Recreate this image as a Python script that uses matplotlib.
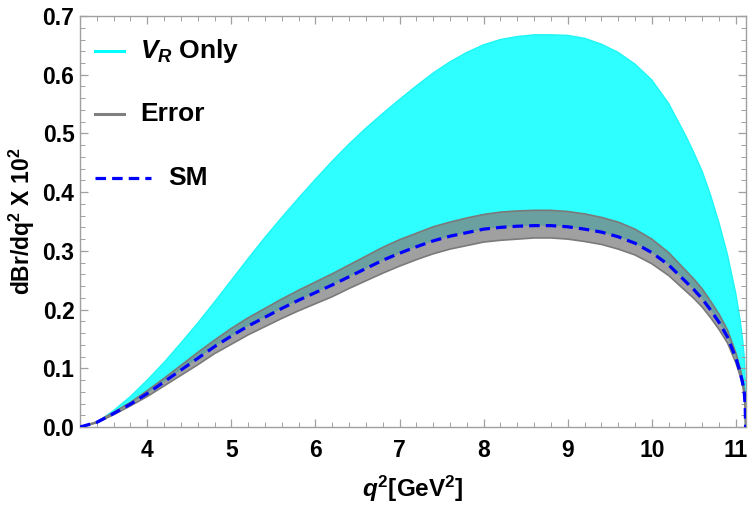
import matplotlib
matplotlib.use("Agg")
import matplotlib.pyplot as plt
from matplotlib.ticker import MultipleLocator, FormatStrFormatter

plt.rcParams['font.family'] = ['Liberation Sans', 'DejaVu Sans']
plt.rcParams['font.weight'] = 'bold'
plt.rcParams['mathtext.fontset'] = 'custom'
plt.rcParams['mathtext.rm'] = 'Liberation Sans:bold'
plt.rcParams['mathtext.it'] = 'Liberation Sans:italic:bold'
plt.rcParams['mathtext.bf'] = 'Liberation Sans:bold'

# q^2 grid (GeV^2)
q2 = [3.2, 3.4, 3.6, 3.8, 4.0, 4.2, 4.4, 4.6, 4.8, 5.0, 5.2, 5.4, 5.6, 5.8,
      6.0, 6.2, 6.4, 6.6, 6.8, 7.0, 7.2, 7.4, 7.6, 7.8, 8.0, 8.2, 8.4, 8.6,
      8.8, 9.0, 9.2, 9.4, 9.6, 9.8, 10.0, 10.2, 10.4, 10.5, 10.6, 10.7, 10.8,
      10.9, 11.0, 11.05, 11.08, 11.1, 11.11, 11.115]
# V_R only (upper edge of cyan band)
vr_only = [0.000, 0.008, 0.028, 0.052, 0.080, 0.110, 0.143, 0.177, 0.213, 0.250,
           0.287, 0.323, 0.357, 0.390, 0.422, 0.453, 0.482, 0.509, 0.534, 0.558,
           0.581, 0.603, 0.622, 0.638, 0.651, 0.660, 0.665, 0.668, 0.668, 0.667,
           0.662, 0.652, 0.638, 0.618, 0.591, 0.551, 0.497, 0.467, 0.435, 0.394,
           0.347, 0.293, 0.226, 0.182, 0.148, 0.117, 0.078, 0.0]
# SM central value
sm = [0.000, 0.008, 0.023, 0.039, 0.057, 0.077, 0.097, 0.117, 0.137, 0.155,
      0.172, 0.187, 0.202, 0.216, 0.229, 0.242, 0.256, 0.270, 0.284, 0.296,
      0.307, 0.317, 0.325, 0.331, 0.337, 0.340, 0.342, 0.343, 0.343, 0.341,
      0.337, 0.332, 0.324, 0.313, 0.297, 0.276, 0.248, 0.234, 0.218, 0.199,
      0.178, 0.153, 0.117, 0.093, 0.075, 0.057, 0.035, 0.0]
# SM error band edges
err_hi = [0.000, 0.009, 0.025, 0.042, 0.062, 0.083, 0.105, 0.127, 0.148, 0.168,
          0.186, 0.202, 0.218, 0.233, 0.247, 0.261, 0.276, 0.291, 0.306, 0.319,
          0.330, 0.341, 0.349, 0.356, 0.362, 0.366, 0.368, 0.369, 0.369, 0.367,
          0.363, 0.357, 0.349, 0.337, 0.320, 0.297, 0.267, 0.252, 0.235, 0.214,
          0.192, 0.165, 0.126, 0.100, 0.081, 0.062, 0.038, 0.0]
err_lo = [0.000, 0.007, 0.021, 0.036, 0.052, 0.070, 0.088, 0.106, 0.125, 0.141,
          0.157, 0.171, 0.185, 0.198, 0.210, 0.222, 0.236, 0.249, 0.262, 0.274,
          0.285, 0.295, 0.303, 0.309, 0.315, 0.318, 0.320, 0.322, 0.322, 0.320,
          0.316, 0.311, 0.303, 0.293, 0.278, 0.258, 0.232, 0.219, 0.204, 0.186,
          0.166, 0.143, 0.109, 0.087, 0.070, 0.053, 0.033, 0.0]

fig = plt.figure(figsize=(7.5, 5.07), dpi=100)
ax = fig.add_axes([0.1067, 0.1578, 0.888, 0.8106])

cyan = '#2EFFFF'
ax.fill_between(q2, sm, vr_only, facecolor=cyan, edgecolor='none', zorder=1)
ax.plot(q2, vr_only, color='#1EF5F5', lw=1.0, zorder=1.5)
ax.fill_between(q2, err_lo, err_hi, facecolor=(0.5, 0.5, 0.5), alpha=0.75,
                edgecolor='none', zorder=2)
ax.plot(q2, err_hi, color='#7A7A7A', lw=1.2, zorder=2.5)
ax.plot(q2, err_lo, color='#7A7A7A', lw=1.2, zorder=2.5)
ax.plot(q2, sm, color='#0000FF', lw=2.3, linestyle=(0, (3.3, 1.9)), zorder=3)

ax.set_xlim(3.2, 11.12)
ax.set_ylim(0, 0.7)
ax.xaxis.set_major_locator(MultipleLocator(1))
ax.xaxis.set_minor_locator(MultipleLocator(0.2))
ax.yaxis.set_major_locator(MultipleLocator(0.1))
ax.yaxis.set_minor_locator(MultipleLocator(0.02))
ax.yaxis.set_major_formatter(FormatStrFormatter('%.1f'))

for sp in ax.spines.values():
    sp.set_color('#A0A0A0')
    sp.set_linewidth(1.0)
ax.tick_params(which='both', direction='in', top=True, right=True,
               color='#A0A0A0', labelsize=16.5)
ax.tick_params(which='major', length=6, width=0.9)
ax.tick_params(which='minor', length=3.5, width=0.7)
ax.tick_params(axis='x', which='major', pad=9)
ax.tick_params(axis='y', which='major', pad=4)
for lab in ax.get_xticklabels() + ax.get_yticklabels():
    lab.set_fontweight('bold')

ax.set_xlabel(r'$q^2$[GeV$^2$]', fontsize=17.5, fontweight='bold', labelpad=8)
ax.set_ylabel(r'dBr/dq$^2$ X 10$^2$', fontsize=16.5, fontweight='bold', labelpad=4)

# legend (drawn manually, axes coordinates)
tr = ax.transAxes
ax.plot([0.0225, 0.066], [0.9148, 0.9148], color='#00FFFF', lw=2.2, transform=tr)
ax.text(0.090, 0.9148, r'$V_R$ Only', fontsize=19, fontweight='bold',
        va='center', ha='left', transform=tr)
ax.plot([0.0225, 0.066], [0.7623, 0.7623], color='#808080', lw=2.2, transform=tr)
ax.text(0.090, 0.7623, 'Error', fontsize=19, fontweight='bold',
        va='center', ha='left', transform=tr)
ax.plot([0.0225, 0.1066], [0.6058, 0.6058], color='#0000FF', lw=2.3,
        linestyle=(0, (3.3, 1.9)), transform=tr)
ax.text(0.132, 0.6058, 'SM', fontsize=19, fontweight='bold',
        va='center', ha='left', transform=tr)

fig.savefig('out.png', dpi=100)
